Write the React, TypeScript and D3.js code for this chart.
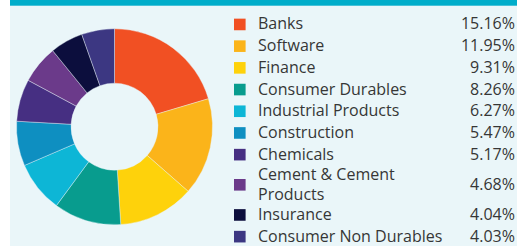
import React from 'react'
import * as d3 from 'd3'

// sector allocation (% of net assets)
const sectors = [
  'Banks',
  'Software',
  'Finance',
  'Consumer Durables',
  'Industrial Products',
  'Construction',
  'Chemicals',
  'Cement & Cement\nProducts',
  'Insurance',
  'Consumer Non Durables',
]
const weights = [15.16, 11.95, 9.31, 8.26, 6.27, 5.47, 5.17, 4.68, 4.04, 4.03]
const colours = [
  '#F15023',
  '#FBB41A',
  '#FED20B',
  '#089C8E',
  '#0DB6D6',
  '#0E8FC1',
  '#462F82',
  '#6B3A8A',
  '#0C0E3D',
  '#3C3782',
]

const W = 517
const H = 246
const bg = '#EAF6F9'
const top = 13.6

export default function App() {
  const idx = d3.range(sectors.length)

  // donut
  const pie = d3.pie<number>().sort(null).value(i => weights[i])
  const arcs = pie(idx)
  const arc = d3.arc<d3.PieArcDatum<number>>().innerRadius(43.5).outerRadius(98)

  // legend rows: normal rows 21.7px, two-line rows are taller
  const rowH = (i: number) => (sectors[i].includes('\n') ? 38.6 : 21.7)
  let acc = top
  const centres = idx.map(i => {
    const c = acc + rowH(i) / 2
    acc += rowH(i)
    return c
  })

  return (
    <svg width={W} height={H} style={{ position: 'absolute', left: 0, top: 0 }}
      fontFamily="'Open Sans', 'Noto Sans', sans-serif">
      <rect width={W} height={H} fill="#fff" />
      <rect x={10} y={0} width={W - 10} height={H} fill={bg} />
      <rect x={10} y={0} width={W - 10} height={5.7} fill="#00ADCA" />

      <g transform="translate(114.5,126.7)">
        {arcs.map(a => (
          <path key={a.data} d={arc(a) || ''} fill={colours[a.data]} stroke={bg} strokeWidth={0.4} />
        ))}
      </g>

      <g fontSize={16} fill="#363636">
        {idx.map(i => {
          const cy = centres[i]
          const lines = sectors[i].split('\n')
          return (
            <g key={i}>
              <rect x={234} y={cy - 5.8} width={11.6} height={11.6} fill={colours[i]} />
              {lines.map((l, j) => (
                <text key={j} x={258} y={cy + 5 + (j - (lines.length - 1) / 2) * 20}>{l}</text>
              ))}
              <text x={515} y={cy + 5} textAnchor="end">{weights[i].toFixed(2)}%</text>
            </g>
          )
        })}
      </g>
    </svg>
  )
}
